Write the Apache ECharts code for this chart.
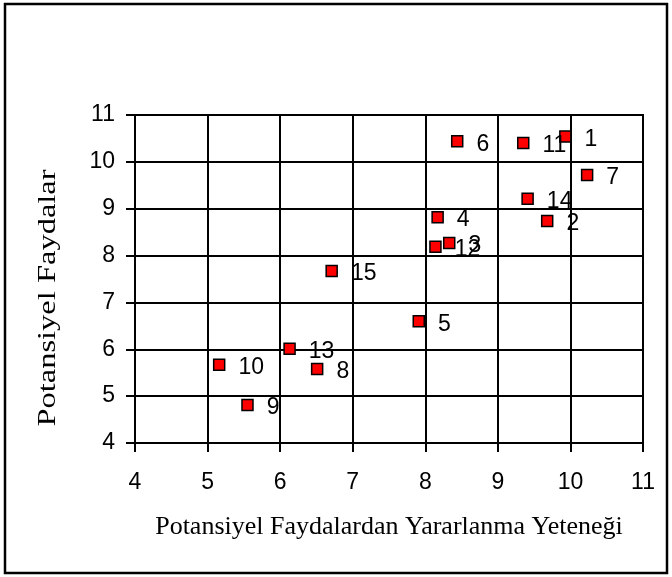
<!DOCTYPE html>
<html><head><meta charset="utf-8">
<script src="https://cdn.jsdelivr.net/npm/echarts@6/dist/echarts.min.js"></script>
<style>html,body{margin:0;padding:0;background:#fff}#c{width:672px;height:577px}</style>
</head><body><div id="c"></div>
<script>
const pointNames = ['1','2','3','4','5','6','7','8','9','10','11','12','13','14','15'];
const xValues = [9.93, 9.68, 8.33, 8.17, 7.91, 8.44, 10.23, 6.51, 5.55, 5.16, 9.35, 8.14, 6.13, 9.41, 6.71];
const yValues = [10.54, 8.74, 8.27, 8.82, 6.60, 10.44, 9.72, 5.58, 4.81, 5.67, 10.40, 8.19, 6.01, 9.21, 7.67];
const xTitle = 'Potansiyel Faydalardan Yararlanma Yeteneği';
const yTitle = 'Potansiyel Faydalar';

const chart = echarts.init(document.getElementById('c'), null, {renderer:'canvas'});
const data = pointNames.map((n,i)=>({name:n, value:[xValues[i], yValues[i]]}));
const axisCommon = {
  min:4, max:11, interval:1,
  axisLine:{show:true, onZero:false, lineStyle:{color:'#000', width:2}},
  axisTick:{show:true, inside:false, length:9, lineStyle:{color:'#000', width:2}},
  splitLine:{show:true, lineStyle:{color:'#000', width:2}},
  axisLabel:{color:'#000', fontFamily:'Liberation Sans, Arial', fontSize:23}
};
chart.setOption({
  animation:false,
  backgroundColor:'#fff',
  graphic:[
    {type:'rect', shape:{x:5, y:4, width:662, height:569}, style:{fill:'none', stroke:'#000', lineWidth:2.5}, z:-1},
    {type:'text', x:48, y:298, rotation:Math.PI/2, scaleX:1.3,
      style:{text:yTitle, font:'25px "Liberation Serif", "Times New Roman", serif', fill:'#000', align:'center', verticalAlign:'middle'}}
  ],
  grid:{left:135, right:29, top:115, bottom:134, show:true, borderColor:'#000', borderWidth:2},
  xAxis:Object.assign({}, axisCommon, {type:'value', name:xTitle, nameLocation:'middle', nameGap:71,
    nameTextStyle:{color:'#000', fontFamily:'Liberation Serif, Times New Roman', fontSize:26},
    axisLabel:Object.assign({}, axisCommon.axisLabel, {margin:28})}),
  yAxis:Object.assign({}, axisCommon, {type:'value',
    axisLabel:Object.assign({}, axisCommon.axisLabel, {margin:20})}),
  series:[{
    type:'scatter', data:data, symbol:'rect', symbolSize:11,
    itemStyle:{color:'#ff0000', borderColor:'#000', borderWidth:1.5, opacity:1},
    label:{show:true, position:'right', distance:13, formatter:'{b}', color:'#000',
      fontFamily:'Liberation Sans, Arial', fontSize:23, offset:[0,3]}
  }]
});
</script></body></html>
